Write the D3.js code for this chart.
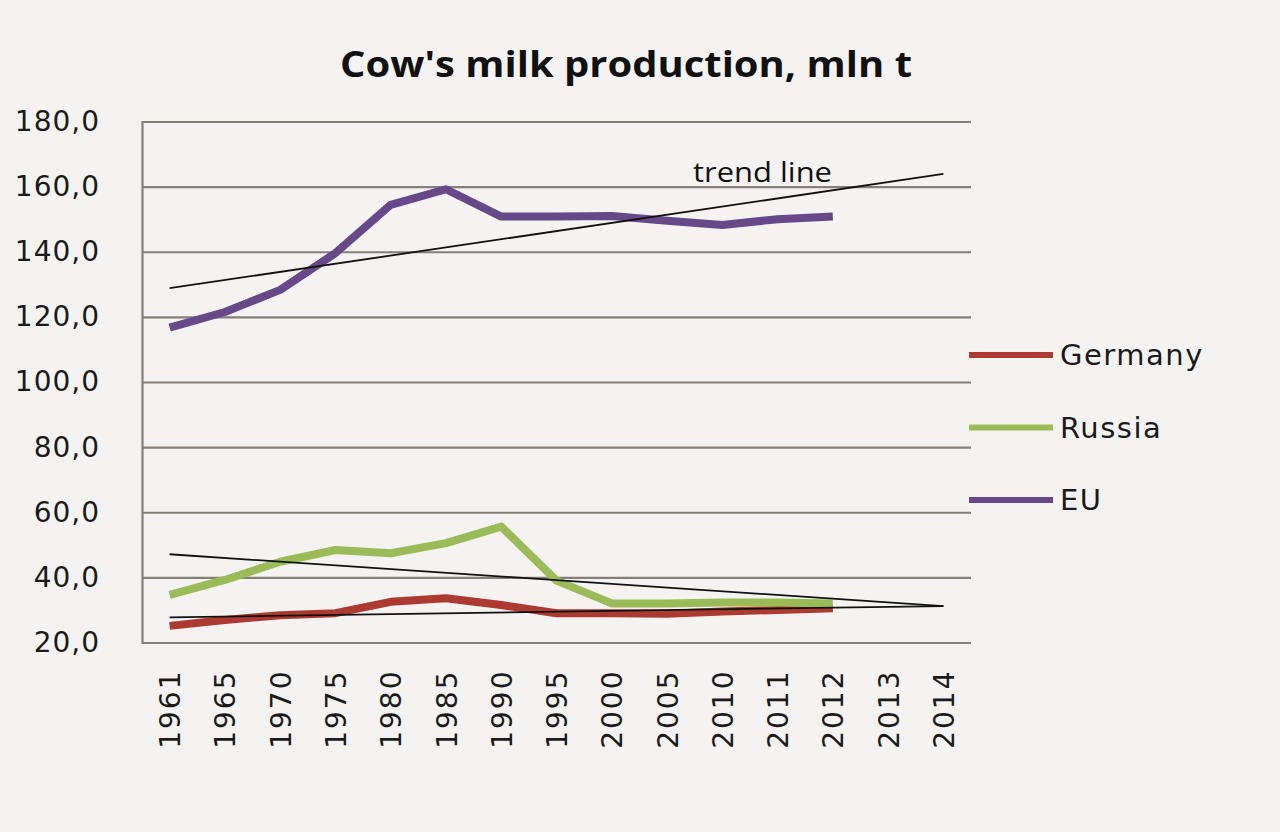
<!DOCTYPE html>
<html>
<head>
<meta charset="utf-8">
<script src="https://cdn.jsdelivr.net/npm/d3@7"></script>
<style>
  html, body { margin: 0; padding: 0; background: #f4f3f1; }
  svg { display: block; }
</style>
</head>
<body>
<svg id="chart" width="1280" height="832"></svg>
<script>
// ---- data ----
const years = ["1961","1965","1970","1975","1980","1985","1990","1995","2000","2005","2010","2011","2012","2013","2014"];
const germany = [25.1, 26.9, 28.4, 29.0, 32.5, 33.6, 31.5, 29.0, 29.0, 28.8, 29.5, 30.0, 30.5];
const russia  = [34.6, 39.2, 44.8, 48.4, 47.4, 50.5, 55.6, 39.0, 32.0, 32.0, 32.3, 32.3, 32.0];
const eu      = [116.7, 121.5, 128.3, 139.6, 154.4, 159.2, 150.8, 150.8, 151.0, 149.5, 148.2, 150.0, 150.8];
const seriesNames = ["Germany", "Russia", "EU"];
// linear trend lines: value at first and last category
const trendGermany = [27.7, 31.2];
const trendRussia  = [47.1, 31.2];
const trendEU      = [128.8, 163.9];
const yTicks = [20, 40, 60, 80, 100, 120, 140, 160, 180];
const title = "Cow's milk production, mln t";
const trendLabel = "trend line";

// ---- layout ----
const svg = d3.select("#chart");
const plot = { left: 142, right: 971, top: 121.5, bottom: 642.5 };
const colors = { Germany: "#ad3a31", Russia: "#9bbb59", EU: "#67498a" };
const gridColor = "#857f79";

const x = d3.scalePoint().domain(years).range([plot.left, plot.right]).padding(0.5);
const y = d3.scaleLinear().domain([20, 180]).range([plot.bottom, plot.top]);

svg.append("rect").attr("width", 1280).attr("height", 832).attr("fill", "#f4f3f1");

// gridlines + y labels via axis
const yAxis = d3.axisLeft(y).tickValues(yTicks)
  .tickSize(-(plot.right - plot.left))
  .tickPadding(42)
  .tickFormat(d => d3.format(".1f")(d).replace(".", ","));
const gy = svg.append("g").attr("transform", `translate(${plot.left},0)`).call(yAxis);
gy.select(".domain").attr("stroke", gridColor).attr("stroke-width", 2.2);
gy.selectAll(".tick line").attr("stroke", gridColor).attr("stroke-width", 2.2);
gy.selectAll(".tick text")
  .attr("font-family", "DejaVu Sans").attr("font-size", 28).attr("fill", "#1a1a1a")
  .attr("letter-spacing", 1);

// x labels
const xAxis = d3.axisBottom(x).tickSize(0).tickPadding(0);
const gx = svg.append("g").attr("transform", `translate(0,${plot.bottom})`).call(xAxis);
gx.select(".domain").remove();
gx.selectAll(".tick text")
  .attr("font-family", "DejaVu Sans").attr("font-size", 28).attr("fill", "#1a1a1a")
  .attr("text-anchor", "end")
  .attr("dy", "0.36em")
  .attr("letter-spacing", 2)
  .attr("transform", "translate(0,27) rotate(-90)");

// series lines
const line = d3.line().x((d, i) => x(years[i])).y(d => y(d));
const data = { Germany: germany, Russia: russia, EU: eu };
seriesNames.forEach(name => {
  svg.append("path").datum(data[name])
    .attr("fill", "none").attr("stroke", colors[name]).attr("stroke-width", 8)
    .attr("stroke-linejoin", "round").attr("stroke-linecap", "butt")
    .attr("d", line);
});

// trend lines
const trendLine = d3.line().x((d, i) => x(i === 0 ? years[0] : years[years.length - 1])).y(d => y(d));
[trendGermany, trendRussia, trendEU].forEach(t => {
  svg.append("path").datum(t).attr("fill", "none").attr("stroke", "#111")
    .attr("stroke-width", 1.8).attr("d", trendLine);
});

// trend label
svg.append("text").attr("x", 693).attr("y", 182)
  .attr("font-family", "Open Sans").attr("font-size", 27).attr("fill", "#111")
  .attr("textLength", 139).attr("lengthAdjust", "spacingAndGlyphs")
  .text(trendLabel);

// title
svg.append("text").attr("x", 626).attr("y", 77).attr("text-anchor", "middle")
  .attr("font-family", "Open Sans").attr("font-weight", "bold").attr("font-size", 36)
  .attr("fill", "#111").attr("textLength", 572).attr("lengthAdjust", "spacingAndGlyphs")
  .text(title);

// legend
const legendY = d3.scalePoint().domain(seriesNames).range([355, 500]);
const lg = svg.append("g");
seriesNames.forEach(name => {
  lg.append("line").attr("x1", 969).attr("x2", 1053)
    .attr("y1", legendY(name)).attr("y2", legendY(name))
    .attr("stroke", colors[name]).attr("stroke-width", 6);
  lg.append("text").attr("x", 1060).attr("y", legendY(name)).attr("dy", "0.36em")
    .attr("font-family", "DejaVu Sans").attr("font-size", 29).attr("fill", "#1a1a1a")
    .attr("letter-spacing", 1.5)
    .text(name);
});
</script>
</body>
</html>
